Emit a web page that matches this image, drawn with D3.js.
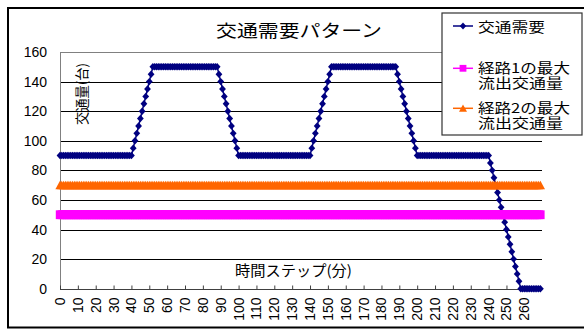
<!DOCTYPE html>
<html>
<head>
<meta charset="utf-8">
<script src="https://cdn.jsdelivr.net/npm/d3@7"></script>
<style>
  html, body { margin: 0; padding: 0; background: #fff; }
  svg { display: block; }
</style>
</head>
<body>
<svg id="chart" width="584" height="329"></svg>
<script>
// ---- data ----
const chartTitle = "交通需要パターン";
const xTitle = "時間ステップ(分)";
const yTitle = "交通量(台)";
const timeSteps = d3.range(0, 270); // category axis: minutes 0..269
const xTickLabels = [0,10,20,30,40,50,60,70,80,90,100,110,120,130,140,150,160,170,180,190,200,210,220,230,240,250,260];
const yTickLabels = [0,20,40,60,80,100,120,140,160];
const seriesNames = ["交通需要", "経路1の最大\n流出交通量", "経路2の最大\n流出交通量"];

const demand = [
  90,90,90,90,90,90,90,90,90,90,
  90,90,90,90,90,90,90,90,90,90,
  90,90,90,90,90,90,90,90,90,90,
  90,90,90,90,90,90,90,90,90,90,
  90,95,100,105,110,115,120,125,130,135,
  140,145,150,150,150,150,150,150,150,150,
  150,150,150,150,150,150,150,150,150,150,
  150,150,150,150,150,150,150,150,150,150,
  150,150,150,150,150,150,150,150,150,145,
  140,135,130,125,120,115,110,105,100,95,
  90,90,90,90,90,90,90,90,90,90,
  90,90,90,90,90,90,90,90,90,90,
  90,90,90,90,90,90,90,90,90,90,
  90,90,90,90,90,90,90,90,90,90,
  90,95,100,105,110,115,120,125,130,135,
  140,145,150,150,150,150,150,150,150,150,
  150,150,150,150,150,150,150,150,150,150,
  150,150,150,150,150,150,150,150,150,150,
  150,150,150,150,150,150,150,150,150,145,
  140,135,130,125,120,115,110,105,100,95,
  90,90,90,90,90,90,90,90,90,90,
  90,90,90,90,90,90,90,90,90,90,
  90,90,90,90,90,90,90,90,90,90,
  90,90,90,90,90,90,90,90,90,90,
  90,85,80,75,70,65,60,55,50,45,
  40,35,30,25,20,15,10,5,0,0,
  0,0,0,0,0,0,0,0,0,0
];

const route1Max = [
  50,50,50,50,50,50,50,50,50,50, 50,50,50,50,50,50,50,50,50,50,
  50,50,50,50,50,50,50,50,50,50, 50,50,50,50,50,50,50,50,50,50,
  50,50,50,50,50,50,50,50,50,50, 50,50,50,50,50,50,50,50,50,50,
  50,50,50,50,50,50,50,50,50,50, 50,50,50,50,50,50,50,50,50,50,
  50,50,50,50,50,50,50,50,50,50, 50,50,50,50,50,50,50,50,50,50,
  50,50,50,50,50,50,50,50,50,50, 50,50,50,50,50,50,50,50,50,50,
  50,50,50,50,50,50,50,50,50,50, 50,50,50,50,50,50,50,50,50,50,
  50,50,50,50,50,50,50,50,50,50, 50,50,50,50,50,50,50,50,50,50,
  50,50,50,50,50,50,50,50,50,50, 50,50,50,50,50,50,50,50,50,50,
  50,50,50,50,50,50,50,50,50,50, 50,50,50,50,50,50,50,50,50,50,
  50,50,50,50,50,50,50,50,50,50, 50,50,50,50,50,50,50,50,50,50,
  50,50,50,50,50,50,50,50,50,50, 50,50,50,50,50,50,50,50,50,50,
  50,50,50,50,50,50,50,50,50,50, 50,50,50,50,50,50,50,50,50,50,
  50,50,50,50,50,50,50,50,50,50
];

const route2Max = [
  70,70,70,70,70,70,70,70,70,70, 70,70,70,70,70,70,70,70,70,70,
  70,70,70,70,70,70,70,70,70,70, 70,70,70,70,70,70,70,70,70,70,
  70,70,70,70,70,70,70,70,70,70, 70,70,70,70,70,70,70,70,70,70,
  70,70,70,70,70,70,70,70,70,70, 70,70,70,70,70,70,70,70,70,70,
  70,70,70,70,70,70,70,70,70,70, 70,70,70,70,70,70,70,70,70,70,
  70,70,70,70,70,70,70,70,70,70, 70,70,70,70,70,70,70,70,70,70,
  70,70,70,70,70,70,70,70,70,70, 70,70,70,70,70,70,70,70,70,70,
  70,70,70,70,70,70,70,70,70,70, 70,70,70,70,70,70,70,70,70,70,
  70,70,70,70,70,70,70,70,70,70, 70,70,70,70,70,70,70,70,70,70,
  70,70,70,70,70,70,70,70,70,70, 70,70,70,70,70,70,70,70,70,70,
  70,70,70,70,70,70,70,70,70,70, 70,70,70,70,70,70,70,70,70,70,
  70,70,70,70,70,70,70,70,70,70, 70,70,70,70,70,70,70,70,70,70,
  70,70,70,70,70,70,70,70,70,70, 70,70,70,70,70,70,70,70,70,70,
  70,70,70,70,70,70,70,70,70,70
];

// ---- drawing ----
const svg = d3.select("#chart");
const W = 584, H = 329;
const jpFont = "'Noto Sans CJK JP', 'Noto Sans', sans-serif";
const numFont = "'Liberation Sans', Arial, sans-serif";

// outer chart border
svg.append("rect").attr("x", 0).attr("y", 0).attr("width", W).attr("height", H).attr("fill", "#fff");
svg.append("rect").attr("x", 8).attr("y", 8).attr("width", 620).attr("height", 319.5)
  .attr("fill", "none").attr("stroke", "#000").attr("stroke-width", 2);

const x = d3.scalePoint().domain(timeSteps).range([60, 540.4]);
const y = d3.scaleLinear().domain([0, 160]).range([288.7, 52]);
const plotRight = 542;
const crisp = v => Math.round(v) + 0.5;

// gridlines
svg.append("g").selectAll("line").data(yTickLabels.filter(v => v > 0)).join("line")
  .attr("x1", 60).attr("x2", plotRight)
  .attr("y1", d => crisp(y(d))).attr("y2", d => crisp(y(d)))
  .attr("stroke", d => d === 160 ? "#808080" : "#000").attr("stroke-width", 1);

// y axis line
svg.append("line").attr("x1", 60.5).attr("x2", 60.5).attr("y1", crisp(y(160))).attr("y2", crisp(y(0)))
  .attr("stroke", "#808080").attr("stroke-width", 1);

// x axis (custom ticks pointing inward)
const xAxis = d3.axisBottom(x).tickValues(xTickLabels).tickSize(-4).tickFormat("");
const gx = svg.append("g").attr("transform", `translate(0,${crisp(y(0))})`).call(xAxis);
gx.select(".domain").attr("d", `M60,0H${plotRight}`).attr("stroke", "#404040");
gx.selectAll(".tick line").attr("stroke", "#404040");

// x tick labels (rotated)
svg.append("g").selectAll("text").data(xTickLabels).join("text")
  .attr("transform", d => `translate(${x(d) + 5},297.5) rotate(-90)`)
  .attr("text-anchor", "end")
  .attr("font-family", numFont).attr("font-size", 14).attr("fill", "#000")
  .text(d => d);

// y tick labels
svg.append("g").selectAll("text").data(yTickLabels).join("text")
  .attr("x", 47).attr("y", d => y(d) + 5)
  .attr("text-anchor", "end")
  .attr("font-family", numFont).attr("font-size", 14).attr("fill", "#000")
  .text(d => d);

// series 1: demand
const navy = "#000080", magenta = "#FF00FF", orange = "#FF6600";
const line = d3.line().x((d, i) => x(timeSteps[i])).y(d => y(d));
const diamond = "M0,-3.7L3.4,0L0,3.7L-3.4,0Z";
const tri = "M0,-4.3L4.6,4.2L-4.6,4.2Z";

svg.append("path").datum(demand).attr("d", line)
  .attr("fill", "none").attr("stroke", navy).attr("stroke-width", 1.5);
svg.append("g").selectAll("path").data(demand).join("path")
  .attr("transform", (d, i) => `translate(${x(timeSteps[i])},${y(d)})`)
  .attr("d", diamond).attr("fill", navy);

// series 2: route 1 max (squares)
svg.append("path").datum(route1Max).attr("d", line)
  .attr("fill", "none").attr("stroke", magenta).attr("stroke-width", 1.5);
svg.append("g").selectAll("rect").data(route1Max).join("rect")
  .attr("x", (d, i) => x(timeSteps[i]) - 4.2).attr("y", d => y(d) - 4.4)
  .attr("width", 8.4).attr("height", 8.8).attr("fill", magenta);

// series 3: route 2 max (triangles)
svg.append("path").datum(route2Max).attr("d", line)
  .attr("fill", "none").attr("stroke", orange).attr("stroke-width", 1.5);
svg.append("g").selectAll("path").data(route2Max).join("path")
  .attr("transform", (d, i) => `translate(${x(timeSteps[i])},${y(d)})`)
  .attr("d", tri).attr("fill", orange);

// title
svg.append("text").attr("x", 216).attr("y", 37)
  .attr("font-family", jpFont).attr("font-size", 17.5).attr("fill", "#000")
  .attr("textLength", 166).attr("lengthAdjust", "spacingAndGlyphs")
  .text(chartTitle);

// x title
svg.append("text").attr("x", 235).attr("y", 275.5)
  .attr("font-family", jpFont).attr("font-size", 14.5).attr("fill", "#000")
  .attr("textLength", 117).attr("lengthAdjust", "spacingAndGlyphs")
  .text(xTitle);

// y title
svg.append("text").attr("transform", "translate(87,125) rotate(-90)")
  .attr("font-family", jpFont).attr("font-size", 13.5).attr("fill", "#000")
  .attr("textLength", 62).attr("lengthAdjust", "spacingAndGlyphs")
  .text(yTitle);

// legend
const lg = svg.append("g");
lg.append("rect").attr("x", 442).attr("y", 13).attr("width", 140).attr("height", 122)
  .attr("fill", "#fff").attr("stroke", "#333").attr("stroke-width", 1.2);

const legendRows = [
  { name: seriesNames[0], color: navy, shape: "diamond", y: 26, lines: [{ t: 31.5, w: 67 }] },
  { name: seriesNames[1], color: magenta, shape: "square", y: 68.3, lines: [{ t: 72.5, w: 92 }, { t: 88, w: 85 }] },
  { name: seriesNames[2], color: orange, shape: "triangle", y: 108.3, lines: [{ t: 113, w: 92 }, { t: 128, w: 85 }] }
];
legendRows.forEach(r => {
  lg.append("line").attr("x1", 453).attr("x2", 473).attr("y1", r.y).attr("y2", r.y)
    .attr("stroke", r.color).attr("stroke-width", 1.5);
  if (r.shape === "diamond") {
    lg.append("path").attr("transform", `translate(463,${r.y})`).attr("d", "M0,-3.4L3.2,0L0,3.4L-3.2,0Z").attr("fill", r.color);
  } else if (r.shape === "square") {
    lg.append("rect").attr("x", 459.6).attr("y", r.y - 3.4).attr("width", 6.8).attr("height", 6.8).attr("fill", r.color);
  } else {
    lg.append("path").attr("transform", `translate(463,${r.y})`).attr("d", "M0,-3.8L4,3.4L-4,3.4Z").attr("fill", r.color);
  }
  const parts = r.name.split("\n");
  const t = lg.append("text")
    .attr("font-family", jpFont).attr("font-size", 13.3).attr("fill", "#000");
  parts.forEach((p, i) => {
    t.append("tspan").attr("x", 478).attr("y", r.lines[i].t)
      .attr("textLength", r.lines[i].w).attr("lengthAdjust", "spacingAndGlyphs")
      .text(p);
  });
});
</script>
</body>
</html>
